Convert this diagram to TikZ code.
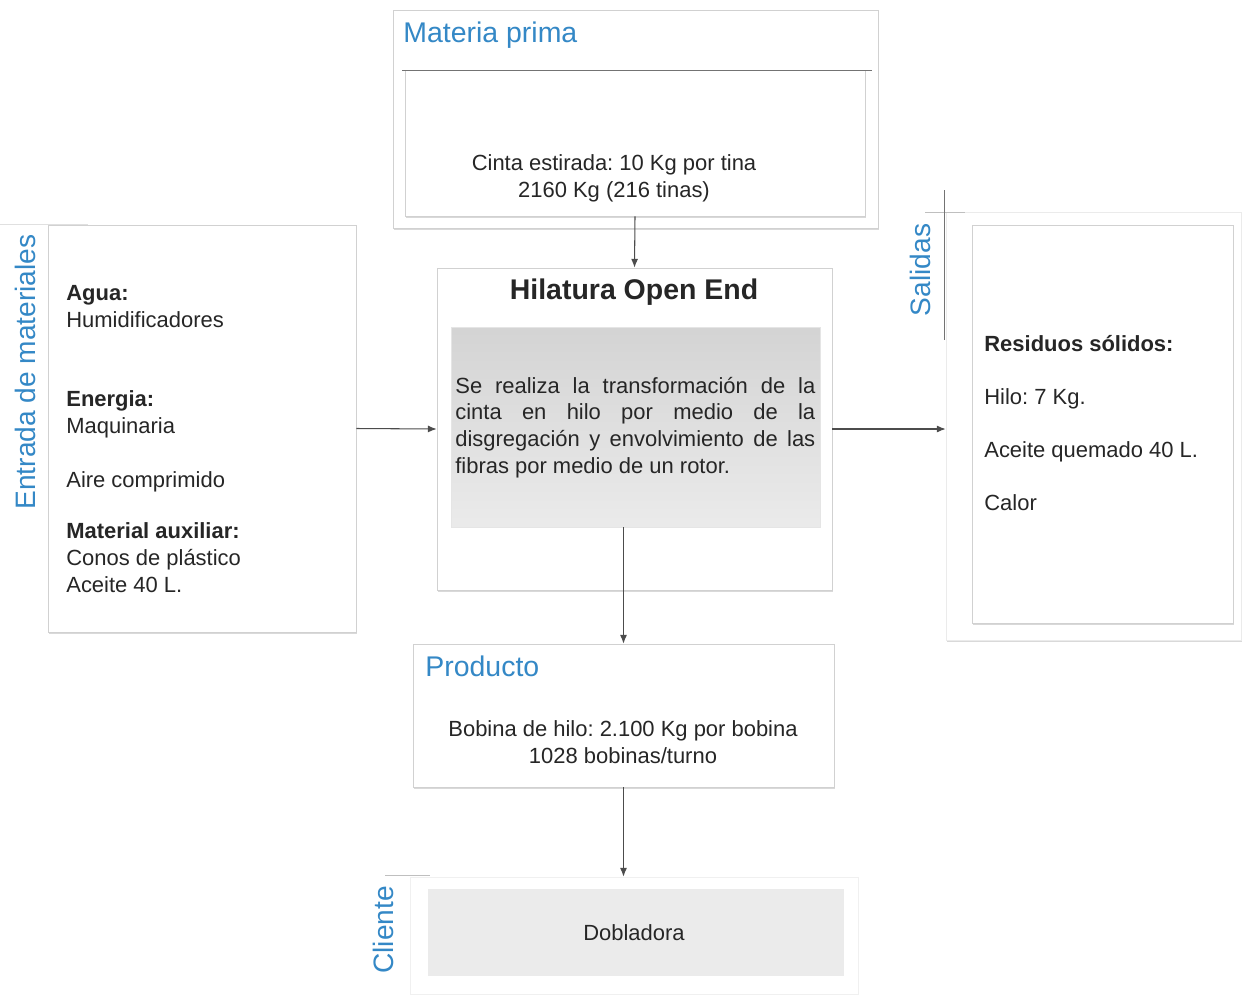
\documentclass[tikz,border=0pt]{standalone}
\usepackage{fontspec}
\setmainfont{Liberation Sans}
\frenchspacing
\usetikzlibrary{arrows.meta}
\usetikzlibrary{positioning}
\usetikzlibrary{fit}
\usetikzlibrary{shadows}
\definecolor{tituloazul}{RGB}{52,136,198}

\begin{document}
\begin{tikzpicture}[x=0.02cm, y=-0.02cm,
    caja/.style={draw=black!18, fill=white, inner sep=0pt,
        drop shadow={shadow xshift=0.7pt, shadow yshift=-0.9pt, opacity=0.3}},
    cajagris/.style={draw=black!10, inner sep=0pt, top color=black!17, bottom color=black!8},
    titulo/.style={text=tituloazul, font=\fontsize{16.2}{19}\selectfont, anchor=base west, inner sep=0pt},
    vtitulo/.style={text=tituloazul, font=\fontsize{16}{19}\selectfont, rotate=90, inner sep=0pt},
    texto/.style={text=black!85, font=\fontsize{12.5}{15.3}\selectfont, inner sep=0pt},
    flecha/.style={black!70, line width=0.6pt, -{Latex[length=5pt,width=4pt]}}]
    \useasboundingbox (0,0) rectangle (1243,994);

    % Materia prima
    \node[caja, fit={(393,10) (878,228)}] (mpout) {};
    \node[caja, fit={(405,70) (865,216)}] (mpin) {};
    \draw[black!55] (402,70) -- (872,70);
    \node[titulo] (mptit) at (403,42) {Materia prima};
    \node[texto, align=center, anchor=base] (mptxt) at (614,197)
        {Cinta estirada: 10 Kg por tina\\2160 Kg (216 tinas)};

    % Proceso
    \node[caja, fit={(437,268) (832,590)}] (hil) {};
    \node[text=black!85, font=\fontsize{16.2}{19}\selectfont\bfseries, anchor=base, inner sep=0pt] (hiltit) at (634,299) {Hilatura Open End};
    \node[cajagris, fit={(451,327) (820,527)}] (hilgris) {};
    \node[texto, text width=7.2cm, align=justify, anchor=base west] (hiltxt) at (455,393)
        {Se realiza la transformación de la\linebreak cinta en hilo por medio de la\linebreak disgregación y envolvimiento de las\linebreak fibras por medio de un rotor.};

    % Entrada de materiales
    \draw[black!12] (0,224) -- (88,224);
    \node[caja, fit={(48,225) (356,632)}] (entrada) {};
    \node[vtitulo] (enttit) at (25,372) {Entrada de materiales};
    \node[texto, align=left, anchor=base west] (agua) at (66,327)
        {\textbf{Agua:}\\Humidificadores};
    \node[texto, align=left, anchor=base west] (energia) at (66,433)
        {\textbf{Energia:}\\Maquinaria};
    \node[texto, anchor=base west] (aire) at (66,487) {Aire comprimido};
    \node[texto, align=left, anchor=base west] (auxiliar) at (66,592)
        {\textbf{Material auxiliar:}\\Conos de plástico\\Aceite 40 L.};

    % Salidas
    \node[caja, draw=black!8, fit={(946,212) (1241,640)}] (salout) {};
    \node[caja, fit={(972,225) (1233,623)}] (salin) {};
    \draw[black!25] (925,212) -- (965,212);
    \draw[black!55] (944,190) -- (944,340);
    \node[vtitulo] (saltit) at (920,270) {Salidas};
    \node[texto, align=left, anchor=base west] (saltxt) at (984,510)
        {\textbf{Residuos sólidos:}\\[14.7pt]Hilo: 7 Kg.\\[14.7pt]Aceite quemado 40 L.\\[14.7pt]Calor};

    % Producto
    \node[caja, fit={(413,644) (834,787)}] (prod) {};
    \node[titulo] (prodtit) at (425,676) {Producto};
    \node[texto, align=center, anchor=base] (prodtxt) at (623,763)
        {Bobina de hilo: 2.100 Kg por bobina\\1028 bobinas/turno};

    % Cliente
    \node[caja, draw=black!6, fit={(410,877) (858,994)}] (cliout) {};
    \draw[black!25] (385,875) -- (430,875);
    \node[fill=black!8, inner sep=0pt, fit={(428,889) (844,976)}] (dobl) {};
    \node[texto] (dobltxt) at (634,933) {Dobladora};
    \node[vtitulo] (clitit) at (383,930) {Cliente};

    % Flechas
    \draw[flecha] (mpin.south) -- (hil.north);
    \draw[flecha] (entrada.east) -- (hil.west);
    \draw[flecha] (hil.east) -- (hil.east -| salout.west);
    \draw[flecha] (hilgris.south -| prod.north) -- (prod.north);
    \draw[flecha] (prod.south) -- (prod.south |- cliout.north);
\end{tikzpicture}
\end{document}
